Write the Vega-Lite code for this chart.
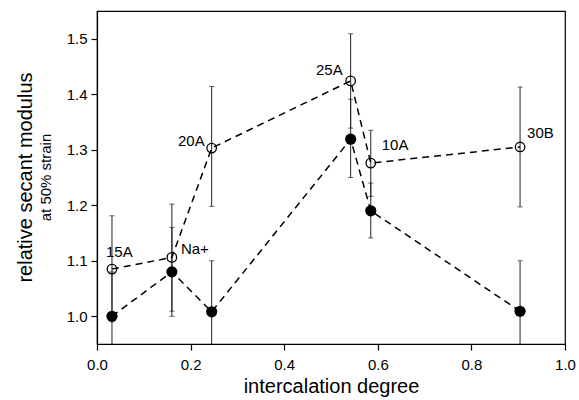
{
  "$schema": "https://vega.github.io/schema/vega-lite/v6.json",
  "width": 468,
  "height": 333,
  "autosize": "none",
  "padding": {"left": 97, "top": 11, "right": 14, "bottom": 56},
  "background": "white",
  "config": {
    "view": {"stroke": "black", "strokeWidth": 1.2},
    "font": "Liberation Sans",
    "axis": {
      "grid": false,
      "labelFlush": false,
      "domainColor": "black",
      "domainWidth": 1.2,
      "tickColor": "black",
      "tickWidth": 1.2,
      "tickSize": 6,
      "labelColor": "black",
      "titleColor": "black",
      "labelFont": "Liberation Sans",
      "titleFont": "Liberation Sans",
      "titleFontWeight": "normal",
      "labelFontSize": 15
    }
  },
  "title": {
    "text": "relative secant modulus",
    "subtitle": "at 50% strain",
    "orient": "left",
    "anchor": "middle",
    "fontSize": 20,
    "subtitleFontSize": 15,
    "fontWeight": "normal",
    "font": "Liberation Sans",
    "subtitleFont": "Liberation Sans",
    "color": "black",
    "subtitleColor": "black",
    "offset": 12,
    "subtitlePadding": 3
  },
  "data": {
    "values": [
      {"sample": "15A", "series": "open", "x": 0.032, "y": 1.085, "lo": 0.990, "hi": 1.181},
      {"sample": "Na+", "series": "open", "x": 0.160, "y": 1.106, "lo": 1.009, "hi": 1.202},
      {"sample": "20A", "series": "open", "x": 0.245, "y": 1.303, "lo": 1.198, "hi": 1.414},
      {"sample": "25A", "series": "open", "x": 0.542, "y": 1.424, "lo": 1.339, "hi": 1.509},
      {"sample": "10A", "series": "open", "x": 0.585, "y": 1.276, "lo": 1.216, "hi": 1.335},
      {"sample": "30B", "series": "open", "x": 0.904, "y": 1.305, "lo": 1.197, "hi": 1.413},
      {"sample": "15A", "series": "filled", "x": 0.032, "y": 1.000, "lo": 0.920, "hi": 1.080},
      {"sample": "Na+", "series": "filled", "x": 0.160, "y": 1.080, "lo": 1.000, "hi": 1.160},
      {"sample": "20A", "series": "filled", "x": 0.245, "y": 1.008, "lo": 0.916, "hi": 1.100},
      {"sample": "25A", "series": "filled", "x": 0.542, "y": 1.319, "lo": 1.250, "hi": 1.391},
      {"sample": "10A", "series": "filled", "x": 0.585, "y": 1.190, "lo": 1.141, "hi": 1.240},
      {"sample": "30B", "series": "filled", "x": 0.904, "y": 1.009, "lo": 0.918, "hi": 1.100}
    ]
  },
  "encoding": {
    "x": {
      "field": "x",
      "type": "quantitative",
      "scale": {"domain": [0, 1], "nice": false, "zero": false, "padding": 0},
      "axis": {
        "values": [0, 0.2, 0.4, 0.6, 0.8, 1.0],
        "format": ".1f",
        "title": "intercalation degree",
        "titleFontSize": 20,
        "labelPadding": 7,
        "titlePadding": 4
      }
    }
  },
  "layer": [
    {
      "mark": {"type": "rule", "color": "#222222", "strokeWidth": 1, "clip": true},
      "encoding": {
        "y": {
          "field": "lo",
          "type": "quantitative",
          "title": null,
          "scale": {"domain": [0.95, 1.55], "nice": false, "zero": false, "padding": 0},
          "axis": {"values": [1.0, 1.1, 1.2, 1.3, 1.4, 1.5], "format": ".1f", "title": null, "labelPadding": 4}
        },
        "y2": {"field": "hi"}
      }
    },
    {
      "mark": {"type": "tick", "orient": "horizontal", "size": 5, "thickness": 1, "color": "#222222", "clip": true},
      "encoding": {
        "y": {"field": "lo", "type": "quantitative", "title": null}
      }
    },
    {
      "mark": {"type": "tick", "orient": "horizontal", "size": 5, "thickness": 1, "color": "#222222", "clip": true},
      "encoding": {
        "y": {"field": "hi", "type": "quantitative", "title": null}
      }
    },
    {
      "transform": [{"filter": "datum.series === 'open'"}],
      "mark": {"type": "line", "color": "black", "strokeWidth": 1.5, "strokeDash": [7, 5]},
      "encoding": {
        "y": {"field": "y", "type": "quantitative", "title": null}
      }
    },
    {
      "transform": [{"filter": "datum.series === 'filled'"}],
      "mark": {"type": "line", "color": "black", "strokeWidth": 1.5, "strokeDash": [7, 5]},
      "encoding": {
        "y": {"field": "y", "type": "quantitative", "title": null}
      }
    },
    {
      "transform": [{"filter": "datum.series === 'open'"}],
      "mark": {"type": "point", "shape": "circle", "filled": false, "color": "black", "size": 90, "strokeWidth": 1.3, "opacity": 1},
      "encoding": {
        "y": {"field": "y", "type": "quantitative", "title": null}
      }
    },
    {
      "transform": [{"filter": "datum.series === 'filled'"}],
      "mark": {"type": "point", "shape": "circle", "filled": true, "color": "black", "size": 125, "opacity": 1},
      "encoding": {
        "y": {"field": "y", "type": "quantitative", "title": null}
      }
    },
    {
      "transform": [{"filter": "datum.series === 'open' && datum.sample === '15A'"}],
      "mark": {"type": "text", "align": "left", "baseline": "alphabetic", "dx": -6, "dy": -12, "fontSize": 15, "font": "Liberation Sans", "color": "black"},
      "encoding": {
        "y": {"field": "y", "type": "quantitative", "title": null},
        "text": {"field": "sample"}
      }
    },
    {
      "transform": [{"filter": "datum.series === 'open' && datum.sample === 'Na+'"}],
      "mark": {"type": "text", "align": "left", "baseline": "alphabetic", "dx": 9, "dy": -3, "fontSize": 15, "font": "Liberation Sans", "color": "black"},
      "encoding": {
        "y": {"field": "y", "type": "quantitative", "title": null},
        "text": {"field": "sample"}
      }
    },
    {
      "transform": [{"filter": "datum.series === 'open' && datum.sample === '20A'"}],
      "mark": {"type": "text", "align": "right", "baseline": "alphabetic", "dx": -7, "dy": -2, "fontSize": 15, "font": "Liberation Sans", "color": "black"},
      "encoding": {
        "y": {"field": "y", "type": "quantitative", "title": null},
        "text": {"field": "sample"}
      }
    },
    {
      "transform": [{"filter": "datum.series === 'open' && datum.sample === '25A'"}],
      "mark": {"type": "text", "align": "right", "baseline": "alphabetic", "dx": -8, "dy": -6, "fontSize": 15, "font": "Liberation Sans", "color": "black"},
      "encoding": {
        "y": {"field": "y", "type": "quantitative", "title": null},
        "text": {"field": "sample"}
      }
    },
    {
      "transform": [{"filter": "datum.series === 'open' && datum.sample === '10A'"}],
      "mark": {"type": "text", "align": "left", "baseline": "alphabetic", "dx": 11, "dy": -13, "fontSize": 15, "font": "Liberation Sans", "color": "black"},
      "encoding": {
        "y": {"field": "y", "type": "quantitative", "title": null},
        "text": {"field": "sample"}
      }
    },
    {
      "transform": [{"filter": "datum.series === 'open' && datum.sample === '30B'"}],
      "mark": {"type": "text", "align": "left", "baseline": "alphabetic", "dx": 7, "dy": -9, "fontSize": 15, "font": "Liberation Sans", "color": "black"},
      "encoding": {
        "y": {"field": "y", "type": "quantitative", "title": null},
        "text": {"field": "sample"}
      }
    }
  ]
}
